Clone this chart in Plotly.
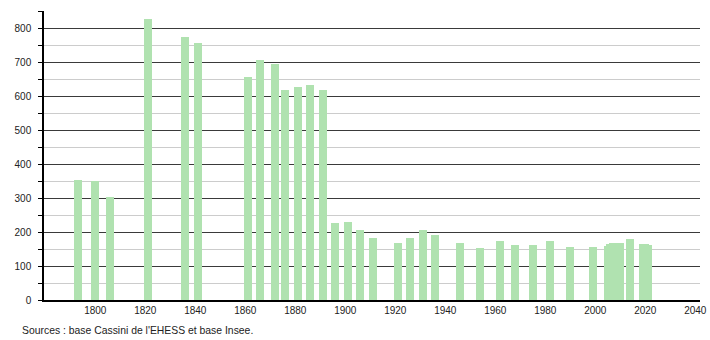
import plotly.graph_objects as go

years = [1793, 1800, 1806, 1821, 1836, 1841, 1861, 1866, 1872, 1876, 1881, 1886, 1891,
         1896, 1901, 1906, 1911, 1921, 1926, 1931, 1936, 1946, 1954, 1962, 1968, 1975,
         1982, 1990, 1999, 2005, 2006, 2007, 2008, 2009, 2010, 2014, 2019, 2020, 2021]
population = [353, 350, 302, 826, 773, 756, 657, 707, 695, 618, 626, 633, 618,
              227, 230, 206, 183, 168, 183, 206, 191, 168, 153, 175, 162, 161,
              175, 156, 156, 159, 166, 167, 167, 167, 167, 180, 165, 164, 163]

y_ticks = [0, 100, 200, 300, 400, 500, 600, 700, 800]
x_ticks = [1800, 1820, 1840, 1860, 1880, 1900, 1920, 1940, 1960, 1980, 2000, 2020, 2040]
source_text = "Sources : base Cassini de l'EHESS et base Insee."

fig = go.Figure()
fig.add_trace(go.Bar(
    x=years, y=population, width=3.2,
    marker=dict(color="rgb(176,226,176)", line=dict(width=0)),
    hoverinfo="x+y",
))

font = dict(family="Liberation Sans, Arial, sans-serif", size=10, color="#222")

fig.update_layout(
    width=710, height=340,
    margin=dict(l=44, r=10, t=11, b=40, autoexpand=False),
    paper_bgcolor="white", plot_bgcolor="white",
    showlegend=False,
    font=font,
    bargap=0,
    xaxis=dict(
        range=[1779.5, 2041.9],
        tickvals=x_ticks, ticktext=[str(v) for v in x_ticks],
        showgrid=False, zeroline=False, automargin=False,
        showline=True, linecolor="black", linewidth=1.5,
        ticks="", tickfont=font,
    ),
    yaxis=dict(
        range=[0, 851],
        tickvals=y_ticks, ticktext=[str(v) for v in y_ticks],
        showgrid=True, gridcolor="#3a3a3a", gridwidth=1,
        zeroline=False, automargin=False,
        showline=True, linecolor="black", linewidth=1.5,
        ticks="outside", ticklen=4, tickcolor="black", tickwidth=1,
        ticklabelstandoff=5,
        tickfont=font,
        minor=dict(dtick=50, tick0=0, showgrid=True, gridcolor="#cccccc", gridwidth=1,
                   ticks="outside", ticklen=4, tickcolor="black"),
    ),
    annotations=[dict(
        text=source_text, xref="paper", yref="paper",
        x=-0.037, y=-0.104, xanchor="left", yanchor="middle",
        showarrow=False, font=dict(family="Liberation Sans, Arial, sans-serif", size=10.4, color="#222"),
    )],
)

fig.write_html("out.html")
